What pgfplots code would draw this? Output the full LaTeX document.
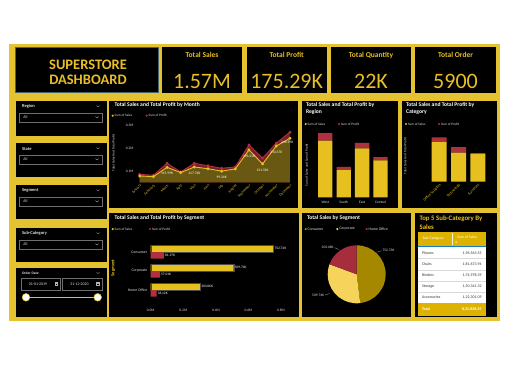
\documentclass[border=0pt]{standalone}
\usepackage{pgfplots}
\pgfplotsset{compat=1.18}
\usepackage{fontspec}
\setmainfont{Carlito}
\newcommand{\fs}[1]{\fontsize{#1}{#1}\selectfont}
\definecolor{frameY}{RGB}{228,194,48}
\definecolor{kpiY}{RGB}{232,190,40}
\definecolor{salesY}{RGB}{230,192,30}
\definecolor{profR}{RGB}{176,48,64}
\definecolor{profD}{RGB}{120,30,40}
\definecolor{oliveA}{RGB}{105,88,18}
\definecolor{pieC}{RGB}{166,136,0}
\definecolor{pieK}{RGB}{246,212,92}
\definecolor{pieH}{RGB}{166,46,60}
\definecolor{tabY}{RGB}{222,178,0}
\definecolor{lbl}{RGB}{225,225,225}
\definecolor{boxG}{RGB}{110,110,110}
\definecolor{tealG}{RGB}{70,100,110}
\pgfplotsset{pbi/.style={scale only axis, clip mode=individual, axis line style={draw=none}, major tick length=0pt, tick style={draw=none}, ticklabel style={font=\fs{3.6}, text=lbl}, /pgf/number format/assume math mode=true}}
\pgfmathsetmacro{\aC}{90-752.73/1565.53*360}
\pgfmathsetmacro{\aK}{\aC-509.74/1565.53*360}
\begin{document}
\begin{tikzpicture}
\begin{scope}[x=1pt,y=-1pt]
\fill[white] (0,0) rectangle (510,365);
\fill[frameY] (9,44) rectangle (500,321);
\foreach \a/\b/\c/\d in {15/47/158/92.5, 162/47/242/92.5, 246.5/47/327/92.5, 331/47/411/92.5, 415/47/496/92.5, 16/101/106.5/135.5, 16/143/106.5/177, 16/185/106.5/219, 16/228/106.5/262, 16/268/106.5/316.5, 109/101/298/208, 302/101/398/208, 402/101/497/208, 109/213/299/317, 302/213/411/317, 415/213/497/317}
  \fill[black] (\a,\b) rectangle (\c,\d);
\draw[tealG, line width=0.5pt] (15,47) rectangle (158,92.5);
% title
\node[font=\fs{14.5}\bfseries, text=kpiY] at (88,65) {SUPERSTORE};
\node[font=\fs{14.5}\bfseries, text=kpiY] at (88,80) {DASHBOARD};
% KPIs
\foreach \x/\t/\v in {202/Total Sales/1.57M, 286.7/Total Profit/175.29K, 371/Total Quantity/22K, 455.5/Total Order/5900} {
  \node[font=\fs{7.5}\bfseries,text=kpiY] at (\x,55) {\t};
  \node[font=\fs{22},text=kpiY] at (\x,81.5) {\v};
}
% slicers
\foreach \y/\t in {101/Region,143/State,185/Segment,228/Sub-Category} {
  \node[anchor=west,font=\fs{4.5}\bfseries,text=lbl] at (18.5,\y+5.7) {\t};
  \draw[lbl!70!black, line width=0.35pt] (96.5,\y+4.6) -- (98,\y+5.8) -- (99.5,\y+4.6);
  \draw[boxG,line width=0.4pt] (19,\y+12.3) rectangle (102.3,\y+20.7);
  \node[anchor=west, font=\fs{4}, text=lbl] at (19.8,\y+16.5) {All};
  \draw[lbl!80!black, line width=0.35pt] (95.5,\y+15.6) -- (97,\y+16.9) -- (98.5,\y+15.6);
}
\node[anchor=west,font=\fs{3.6}\bfseries,text=lbl] at (18.5,273.3) {Order Date};
\draw[lbl!70!black, line width=0.35pt] (96.5,272.3) -- (98,273.5) -- (99.5,272.3);
\draw[boxG,line width=0.4pt] (20.7,278.3) rectangle (60,290);
\draw[boxG,line width=0.4pt] (62.3,278.3) rectangle (102.3,290);
\node[font=\fs{3.9},text=lbl] at (38,284.2) {01-01-2019};
\node[font=\fs{3.9},text=lbl] at (79.5,284.2) {31-12-2020};
\draw[lbl!80!black,line width=0.3pt] (54.8,282.5) rectangle (57.6,285.6) (54.8,283.4)--(57.6,283.4);
\draw[lbl!80!black,line width=0.3pt] (96.4,282.5) rectangle (99.2,285.6) (96.4,283.4)--(99.2,283.4);
\draw[salesY, line width=0.8pt] (26,297.3) -- (97.7,297.3);
\filldraw[fill=white, draw=salesY, line width=0.5pt] (26,297.3) circle (3.8) (97.7,297.3) circle (3.8);
% chart titles and legends
\node[anchor=west,font=\fs{5.6}\bfseries,text=white] at (111,105) {Total Sales and Total Profit by Month};
\node[anchor=west,font=\fs{5.6}\bfseries,text=white] at (302.5,105) {Total Sales and Total Profit by};
\node[anchor=west,font=\fs{5.6}\bfseries,text=white] at (302.5,112.3) {Region};
\node[anchor=west,font=\fs{5.6}\bfseries,text=white] at (402.5,105) {Total Sales and Total Profit by};
\node[anchor=west,font=\fs{5.6}\bfseries,text=white] at (402.5,112.3) {Category};
\node[anchor=west,font=\fs{5.6}\bfseries,text=white] at (111,218.3) {Total Sales and Total Profit by Segment};
\node[anchor=west,font=\fs{5.6}\bfseries,text=white] at (303.5,218.3) {Total Sales by Segment};
\node[anchor=west,font=\fs{6.8}\bfseries,text=kpiY] at (416,219) {Top 5 Sub-Category By};
\node[anchor=west,font=\fs{6.8}\bfseries,text=kpiY] at (416,226.8) {Sales};
\foreach \x/\y in {112.7/115.7, 305.7/124, 406/124, 112.7/229} {
  \fill[salesY] (\x,\y) circle (1.2);
  \node[anchor=west,font=\fs{3.4},text=lbl,inner sep=0.8pt] at (\x+1,\y) {Sum of Sales};
}
\foreach \x/\y in {146.7/115.7, 339/124, 439/124, 150/229} {
  \fill[profR] (\x,\y) circle (1.2);
  \node[anchor=west,font=\fs{3.4},text=lbl,inner sep=0.8pt] at (\x+1,\y) {Sum of Profit};
}
\fill[pieC] (305.7,229) circle (1.2); \node[anchor=west,font=\fs{3.8},text=lbl,inner sep=0.8pt] at (306.7,229) {Consumer};
\fill[pieK] (337.3,229) circle (1.2); \node[anchor=west,font=\fs{3.8},text=lbl,inner sep=0.8pt] at (338.3,229) {Corporate};
\fill[pieH] (366.7,229) circle (1.2); \node[anchor=west,font=\fs{3.8},text=lbl,inner sep=0.8pt] at (367.7,229) {Home Office};
% axis titles
\node[rotate=90,font=\fs{3.4},text=lbl] at (113.5,153) {Total Sales And Total Profit};
\node[rotate=90,font=\fs{3.4},text=lbl] at (306.7,165) {Sum of Sales and Sum of Profit};
\node[rotate=90,font=\fs{3.4},text=lbl] at (405.3,156) {Total Sales And Total Profit};
\node[rotate=90,font=\fs{4.6}\bfseries,text=salesY] at (113.3,268) {Segment};
% table
\fill[tabY] (417.5,232) rectangle (486,245.5);
\fill[white] (417.5,245.5) rectangle (486,303.3);
\draw[cyan!60!blue, line width=0.6pt] (417.5,246) -- (486,246);
\foreach \y in {258.6,269.7,280.8,291.9} \draw[black!15, line width=0.3pt] (417.5,\y) -- (486,\y);
\fill[tabY] (417.5,303.3) rectangle (486,315.5);
\draw[white!85!tabY, line width=0.3pt] (452.3,233) -- (452.3,245);
\node[anchor=west,font=\fs{3.9},text=white] at (419,238.8) {Sub-Category};
\node[anchor=west,font=\fs{3.9},text=white] at (453.5,237.6) {Sum of Sales};
\fill[white] (455.2,241.6) -- (457,241.6) -- (456.1,243) -- cycle;
\foreach \y/\n/\v in {253/Phones/{1,96,563.55}, 264.1/Chairs/{1,81,673.94}, 275.2/Binders/{1,74,978.39}, 286.3/Storage/{1,50,341.32}, 297.4/Accessories/{1,22,301.09}} {
  \node[anchor=west,font=\fs{3.9},text=black!80] at (418.5,\y) {\n};
  \node[anchor=east,font=\fs{3.9},text=black!80] at (485,\y) {\v};
}
\node[anchor=west,font=\fs{4}\bfseries,text=white] at (418.5,309.4) {Total};
\node[anchor=east,font=\fs{4}\bfseries,text=white] at (485,309.4) {8,25,858.29};
% pie labels
\draw[lbl!70!black,line width=0.3pt] (376.5,252.3) -- (381.5,250.8);
\node[anchor=west,font=\fs{3.6},text=lbl,inner sep=0.5pt] at (381.8,250.8) {752.73K};
\draw[lbl!70!black,line width=0.3pt] (334.5,247.7) -- (339.3,249.6);
\node[anchor=east,font=\fs{3.6},text=lbl,inner sep=0.5pt] at (334.3,247.7) {303.06K};
\draw[lbl!70!black,line width=0.3pt] (325,295) -- (329.5,293.5);
\node[anchor=east,font=\fs{3.6},text=lbl,inner sep=0.5pt] at (324.8,295) {509.74K};
\end{scope}

% Month chart
\begin{axis}[pbi, at={(137pt,-125.7pt)}, anchor=north west, width=157pt, height=56.6pt,
  xmin=0.8, xmax=12.3, ymin=0.05, ymax=0.3,
  xtick={1,...,12}, xticklabels={January,February,March,April,May,June,July,August,September,October,November,December},
  xticklabel style={rotate=45, anchor=north east, text=salesY, font=\fs{3.7}, inner sep=1pt},
  ytick={0.1,0.2,0.3}, yticklabels={0.1M,0.2M,0.3M}]
\addplot[fill=profD, draw=none] coordinates {(1,0.085)(2,0.081)(3,0.134)(4,0.096)(5,0.134)(6,0.123)(7,0.112)(8,0.118)(9,0.215)(10,0.157)(11,0.223)(12,0.271)} \closedcycle;
\addplot[fill=oliveA, draw=none] coordinates {(1,0.078)(2,0.075)(3,0.116)(4,0.093)(5,0.1177)(6,0.110)(7,0.0993)(8,0.109)(9,0.1932)(10,0.1315)(11,0.2104)(12,0.2446)} \closedcycle;
\addplot[profR, line width=0.9pt, mark=*, mark size=1pt] coordinates {(1,0.085)(2,0.081)(3,0.134)(4,0.096)(5,0.134)(6,0.123)(7,0.112)(8,0.118)(9,0.215)(10,0.157)(11,0.223)(12,0.271)};
\addplot[salesY, line width=0.9pt, mark=*, mark size=1pt] coordinates {(1,0.078)(2,0.075)(3,0.116)(4,0.093)(5,0.1177)(6,0.110)(7,0.0993)(8,0.109)(9,0.1932)(10,0.1315)(11,0.2104)(12,0.2446)};
\node[font=\fs{3.6},text=white,anchor=north] at (axis cs:3,0.109) {115.99K};
\node[font=\fs{3.6},text=white,anchor=north] at (axis cs:5,0.111) {117.74K};
\node[font=\fs{3.6},text=white,anchor=north] at (axis cs:7,0.093) {99.34K};
\node[font=\fs{3.6},text=white,anchor=north] at (axis cs:9,0.186) {193.21K};
\node[font=\fs{3.6},text=white,anchor=north] at (axis cs:10,0.124) {131.51K};
\node[font=\fs{3.6},text=white,anchor=north] at (axis cs:11,0.203) {210.37K};
\node[font=\fs{3.6},text=white,anchor=north] at (axis cs:11.8,0.246) {244.59K};
\end{axis}

% Region chart
\begin{axis}[pbi, at={(310.6pt,-197.3pt)}, anchor=south west, width=84.6pt, height=70.8pt,
  xmin=-0.8, xmax=3.8, ymin=0, ymax=0.65, ybar stacked, bar width=14.3pt,
  ytick=\empty, xtick={0,1,2,3}, xticklabels={West,South,East,Central}]
\addplot[fill=salesY, draw=none] coordinates {(0,0.52)(1,0.25)(2,0.45)(3,0.34)};
\addplot[fill=profR, draw=none] coordinates {(0,0.07)(1,0.03)(2,0.05)(3,0.03)};
\node[font=\fs{3.5},text=white] at (axis cs:0,0.26) {0.52M};
\node[font=\fs{3.5},text=white] at (axis cs:1,0.125) {0.25M};
\node[font=\fs{3.5},text=white] at (axis cs:2,0.225) {0.45M};
\node[font=\fs{3.5},text=white] at (axis cs:3,0.17) {0.34M};
\node[font=\fs{3.5},text=white] at (axis cs:0,0.555) {0.07M};
\node[font=\fs{3.5},text=white] at (axis cs:2,0.475) {0.05M};
\end{axis}

% Category chart
\begin{axis}[pbi, at={(422.8pt,-181.7pt)}, anchor=south west, width=69.5pt, height=55.6pt,
  xmin=-0.85, xmax=2.75, ymin=0, ymax=0.9, ybar stacked, bar width=15pt,
  ytick=\empty, xtick={0,1,2}, xticklabels={Office Supplies,Technology,Furniture},
  xticklabel style={rotate=45, anchor=north east, text=salesY, font=\fs{3.8}, inner sep=1pt}]
\addplot[fill=salesY, draw=none] coordinates {(0,0.64)(1,0.47)(2,0.45)};
\addplot[fill=profR, draw=none] coordinates {(0,0.076)(1,0.088)(2,0.012)};
\node[font=\fs{3.5},text=white] at (axis cs:0,0.32) {0.64M};
\node[font=\fs{3.5},text=white] at (axis cs:1,0.235) {0.47M};
\node[font=\fs{3.5},text=white] at (axis cs:2,0.225) {0.45M};
\node[font=\fs{3.5},text=white] at (axis cs:1,0.514) {0.09M};
\end{axis}

% Segment bar chart
\begin{axis}[pbi, at={(150.7pt,-303.3pt)}, anchor=south west, width=130.3pt, height=64.6pt,
  xmin=0, xmax=0.8, ymin=-0.7, ymax=2.7, xbar, bar width=6.7pt,
  xtick={0,0.2,0.4,0.6,0.8}, xticklabels={0.0M,0.2M,0.4M,0.6M,0.8M},
  xticklabel style={yshift=-2.5pt},
  ytick={0,1,2}, yticklabels={Home Office,Corporate,Consumer}, yticklabel style={font=\fs{3.8}}]
\addplot[xbar, bar shift=3.35pt, fill=salesY, draw=black!70, line width=0.3pt] coordinates {(0.75273,2)(0.50974,1)(0.30306,0)};
\addplot[xbar, bar shift=-3.35pt, fill=profR, draw=none] coordinates {(0.08137,2)(0.05701,1)(0.03612,0)};
\node[font=\fs{3.5},text=white,anchor=west,inner sep=1pt] at (axis cs:0.75273,2) [yshift=3.35pt] {752.73K};
\node[font=\fs{3.5},text=white,anchor=west,inner sep=1pt] at (axis cs:0.50974,1) [yshift=3.35pt] {509.74K};
\node[font=\fs{3.5},text=white,anchor=west,inner sep=1pt] at (axis cs:0.30306,0) [yshift=3.35pt] {303.06K};
\node[font=\fs{3.5},text=white,anchor=west,inner sep=1pt] at (axis cs:0.08137,2) [yshift=-3.35pt] {81.37K};
\node[font=\fs{3.5},text=white,anchor=west,inner sep=1pt] at (axis cs:0.05701,1) [yshift=-3.35pt] {57.01K};
\node[font=\fs{3.5},text=white,anchor=west,inner sep=1pt] at (axis cs:0.03612,0) [yshift=-3.35pt] {36.12K};
\end{axis}

% Pie chart
\begin{axis}[hide axis, at={(356.7pt,-274.3pt)}, anchor=origin, x=1pt, y=1pt, xmin=-40, xmax=40, ymin=-35, ymax=35]
\fill[pieC] (axis cs:0,0) -- ++(90:29pt) arc[start angle=90, end angle=\aC, radius=29pt] -- cycle;
\fill[pieK] (axis cs:0,0) -- ++(\aC:29pt) arc[start angle=\aC, end angle=\aK, radius=29pt] -- cycle;
\fill[pieH] (axis cs:0,0) -- ++(\aK:29pt) arc[start angle=\aK, end angle=-270, radius=29pt] -- cycle;
\end{axis}

\pgfresetboundingbox
\path (0pt,0pt) rectangle (510pt,-365pt);
\end{tikzpicture}
\end{document}
